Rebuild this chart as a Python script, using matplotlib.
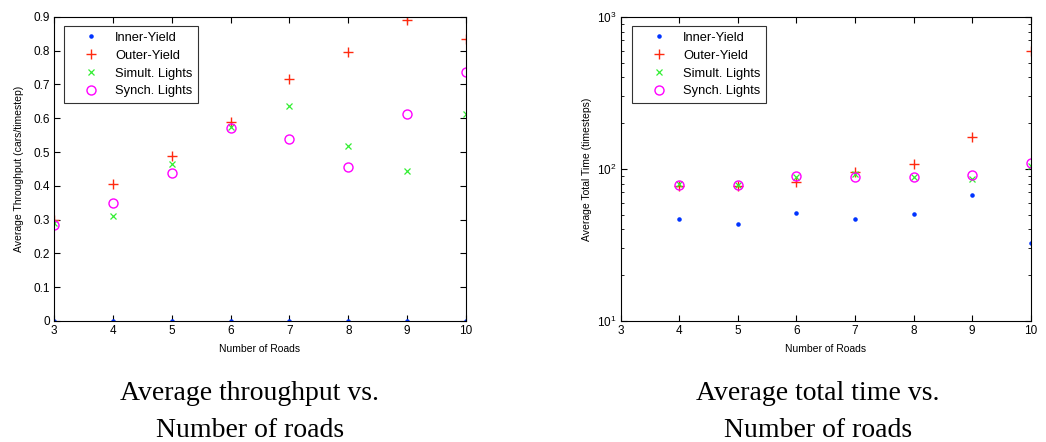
import matplotlib

matplotlib.use("Agg")
import matplotlib.pyplot as plt
import numpy as np

plt.rcParams["font.family"] = ["Liberation Sans", "DejaVu Sans"]

roads = [3, 4, 5, 6, 7, 8, 9, 10]
series_names = ["Inner-Yield", "Outer-Yield", "Simult. Lights", "Synch. Lights"]

# throughput (cars/timestep)
tp_inner = [0, 0, 0, 0, 0, 0, 0, 0]
tp_outer = [0.30, 0.405, 0.487, 0.588, 0.717, 0.797, 0.890, 0.835]
tp_simult = [0.29, 0.31, 0.465, 0.575, 0.635, 0.518, 0.445, 0.612]
tp_synch = [0.285, 0.35, 0.437, 0.57, 0.538, 0.455, 0.613, 0.738]

# total time (timesteps); no run for 3 roads
tt_inner = [np.nan, 47, 43.6, 51.5, 47, 50.5, 67, 32.4]
tt_outer = [np.nan, 77.5, 77, 81.5, 96, 107, 162, 600]
tt_simult = [np.nan, 80, 78, 89, 93, 88.5, 86, 104]
tt_synch = [np.nan, 78, 78, 90, 89, 88, 91, 109]

styles = [
    dict(marker=".", color="#0033ff", markersize=4.5),
    dict(marker="+", color="#ff2a10", markersize=7, markeredgewidth=1.0),
    dict(marker="x", color="#33ee33", markersize=3.8, markeredgewidth=0.9),
    dict(marker="o", color="#ff00ff", markersize=6.5, markerfacecolor="none", markeredgewidth=1.0),
]


def draw_series(ax, data, anchor_x):
    for name, ys, st in zip(series_names, data, styles):
        ax.plot(roads, ys, linestyle="none", label=name, **st)
    leg = ax.legend(loc="upper left", bbox_to_anchor=(anchor_x, 0.97), fancybox=False,
                    edgecolor="black", fontsize=9.3, handlelength=3.3, borderpad=0.45,
                    labelspacing=0.45, handletextpad=0.2, borderaxespad=0)
    leg.get_frame().set_linewidth(0.8)


def style_axes(ax):
    ax.set_xlim(3, 10)
    ax.set_xticks(roads)
    ax.tick_params(which="both", direction="in", top=True, right=True, labelsize=8.5, pad=3)
    ax.tick_params(which="major", length=4)
    ax.tick_params(which="minor", length=2.5)
    for sp in ax.spines.values():
        sp.set_linewidth(0.8)
    ax.set_xlabel("Number of Roads", fontsize=7.5, labelpad=5)


fig = plt.figure(figsize=(10.46, 4.42), dpi=100)

ax1 = fig.add_axes([0.0516, 0.2738, 0.394, 0.688])
draw_series(ax1, [tp_inner, tp_outer, tp_simult, tp_synch], 0.024)
style_axes(ax1)
ax1.set_ylim(0, 0.9)
ax1.set_yticks(np.arange(0, 0.91, 0.1))
ax1.set_yticklabels(["0"] + [f"{v:.1f}" for v in np.arange(0.1, 0.91, 0.1)])
ax1.set_ylabel("Average Throughput (cars/timestep)", fontsize=7.5, labelpad=7)

ax2 = fig.add_axes([0.5934, 0.2738, 0.392, 0.688])
draw_series(ax2, [tt_inner, tt_outer, tt_simult, tt_synch], 0.028)
ax2.set_yscale("log")
style_axes(ax2)
ax2.set_ylim(10, 1000)
ax2.set_ylabel("Average Total Time (timesteps)", fontsize=7.5, labelpad=4)

cap = dict(ha="center", va="baseline", fontsize=20, family="Liberation Serif")
fig.text(0.239, 0.095, "Average throughput vs.", **cap)
fig.text(0.239, 0.012, "Number of roads", **cap)
fig.text(0.782, 0.095, "Average total time vs.", **cap)
fig.text(0.782, 0.012, "Number of roads", **cap)

fig.savefig("out.png", dpi=100)
